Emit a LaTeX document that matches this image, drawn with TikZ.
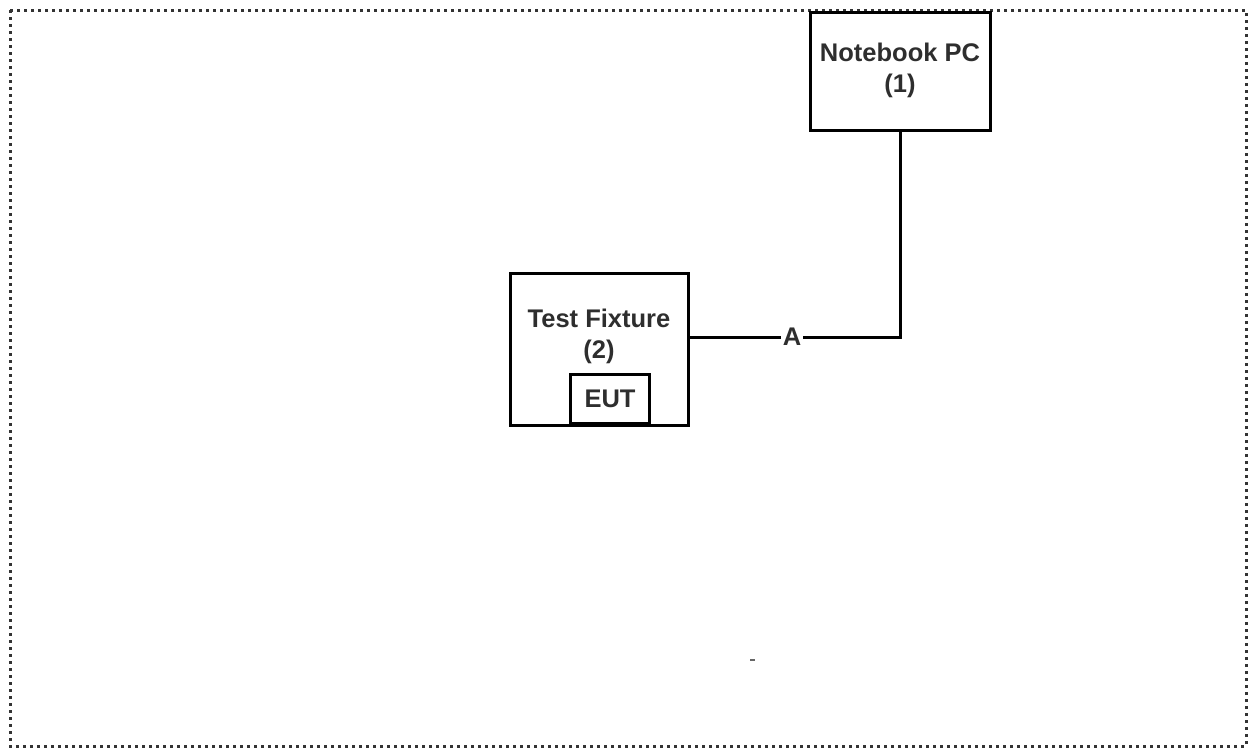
\documentclass[tikz,border=0pt]{standalone}
\usepackage{fontspec}
\setmainfont{Liberation Sans}
\begin{document}
\begin{tikzpicture}[x=1pt,y=-1pt,
  box/.style={draw=black,line width=3pt,inner sep=0pt},
  lbl/.style={font=\fontsize{25.5}{31}\selectfont\bfseries,align=center,text=black!82},
  wire/.style={line width=3pt,draw=black}]
\useasboundingbox (0,0) rectangle (1249,748);
\draw[line width=3pt,dash pattern=on 3pt off 4pt,black!80] (10,10) rectangle (1246,746);
% Notebook PC
\draw[box] (810,12) rectangle (990,130);
\coordinate (pcb) at (900,130);
\node[lbl] (pc) at (900,70) {Notebook PC\\(1)};
% Test fixture
\draw[box] (510,273) rectangle (688,425);
\coordinate (tfr) at (688,337);
\node[lbl] (tf) at (599,336) {Test Fixture\\(2)};
\node[box,minimum width=79pt,minimum height=49pt,anchor=south west,lbl] (eut) at (569,425) {EUT};
% cable
\node[lbl,inner sep=2pt] (A) at (792,337) {A};
\coordinate (corner) at (900,337);
\draw[wire] (tfr) -- (A.west);
\draw[wire] (A.east) -- (corner) -- (pcb);
\fill[black!60] (750,659) rectangle (755,661);
\end{tikzpicture}
\end{document}
